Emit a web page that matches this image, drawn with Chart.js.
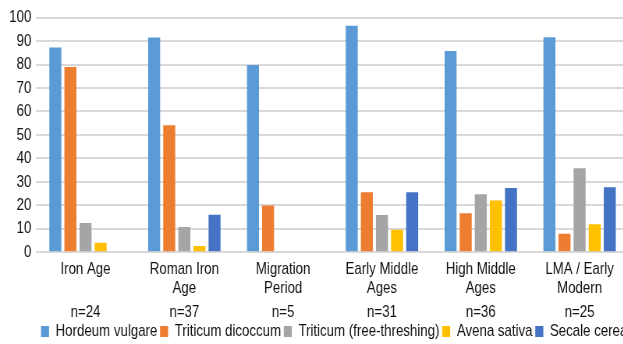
<!DOCTYPE html>
<html>
<head>
<meta charset="utf-8">
<script src="https://cdn.jsdelivr.net/npm/chart.js@4.4.1/dist/chart.umd.min.js"></script>
<style>
  html, body { margin: 0; padding: 0; background: #fff; overflow: hidden; }
  #wrap { width: 623px; height: 344px; overflow: hidden; position: relative; }
  /* condensed rendering: the whole chart is drawn wide and narrowed horizontally */
  canvas { display: block; transform: scaleX(0.78); transform-origin: 0 0; }
</style>
</head>
<body>
<div id="wrap"><canvas id="chart" width="862" height="350"></canvas></div>
<script>
// Periods (two caption lines each) and their sample counts
const periodLines = [
  ['Iron Age', ''],
  ['Roman Iron', 'Age'],
  ['Migration', 'Period'],
  ['Early Middle', 'Ages'],
  ['High Middle', 'Ages'],
  ['LMA / Early', 'Modern']
];
const sampleSizes = [24, 37, 5, 31, 36, 25];

// caption rows are laid out on a fine line grid: name, second line, sample size
const blankLines = n => Array(n).fill('');
const categories = periodLines.map((l, i) => [
  ...blankLines(2),
  l[0], ...blankLines(3),
  l[1], ...blankLines(4),
  'n=' + sampleSizes[i]
]);

// Share of samples (%) containing each crop
const hordeumVulgare   = [87.3, 91.6, 79.8, 96.6, 85.8, 91.7];
const triticumDicoccum = [79.0, 54.1, 19.9, 25.6, 16.6, 7.8];
const triticumFree     = [12.4, 10.7, 0, 15.8, 24.7, 35.8];
const avenaSativa      = [4.0, 2.6, 0, 9.6, 22.0, 11.9];
const secaleCereale    = [0, 16.0, 0, 25.6, 27.4, 27.7];

const yTicks = [0, 10, 20, 30, 40, 50, 60, 70, 80, 90, 100];

const FONT = "'Liberation Sans', Arial, sans-serif";
const TEXT = '#111111';

const series = [
  { label: 'Hordeum vulgare', data: hordeumVulgare, color: '#5B9BD5' },
  { label: 'Triticum dicoccum', data: triticumDicoccum, color: '#ED7D31' },
  { label: 'Triticum (free-threshing)', data: triticumFree, color: '#A5A5A5' },
  { label: 'Avena sativa', data: avenaSativa, color: '#FFC000' },
  { label: 'Secale cereale', data: secaleCereale, color: '#4472C4' }
];

new Chart(document.getElementById('chart'), {
  type: 'bar',
  data: {
    labels: categories,
    datasets: series.map(s => ({
      label: s.label,
      data: s.data,
      backgroundColor: s.color,
      borderWidth: 0,
      categoryPercentage: 0.764,
      barPercentage: 0.795
    }))
  },
  options: {
    responsive: false,
    animation: false,
    layout: { padding: { top: 17.7, right: 0, bottom: 0, left: 8 } },
    plugins: {
      tooltip: { enabled: false },
      legend: {
        position: 'bottom',
        labels: {
          boxWidth: 10.3,
          boxHeight: 11,
          padding: 3.5,
          color: TEXT,
          font: { family: FONT, size: 17 }
        }
      }
    },
    scales: {
      x: {
        grid: { display: false, drawTicks: false },
        border: { display: false },
        ticks: {
          autoSkip: false,
          maxRotation: 0,
          padding: 4.575,
          color: TEXT,
          font: { family: FONT, size: 17, lineHeight: '4.85px' }
        }
      },
      y: {
        min: 0,
        max: 100,
        afterFit: s => { s.width = 38.3; },
        afterBuildTicks: s => { s.ticks = yTicks.map(v => ({ value: v })); },
        grid: { color: '#d9d9d9', lineWidth: 2, drawTicks: false },
        border: { display: false },
        ticks: {
          autoSkip: false,
          padding: 6.2,
          color: TEXT,
          font: { family: FONT, size: 17 }
        }
      },
      // empty spacer on the right so the legend row can run past the plot
      spacer: {
        type: 'linear',
        position: 'right',
        afterFit: s => { s.width = 55.6; },
        grid: { display: false },
        border: { display: false },
        ticks: { display: false }
      }
    }
  }
});
</script>
</body>
</html>
